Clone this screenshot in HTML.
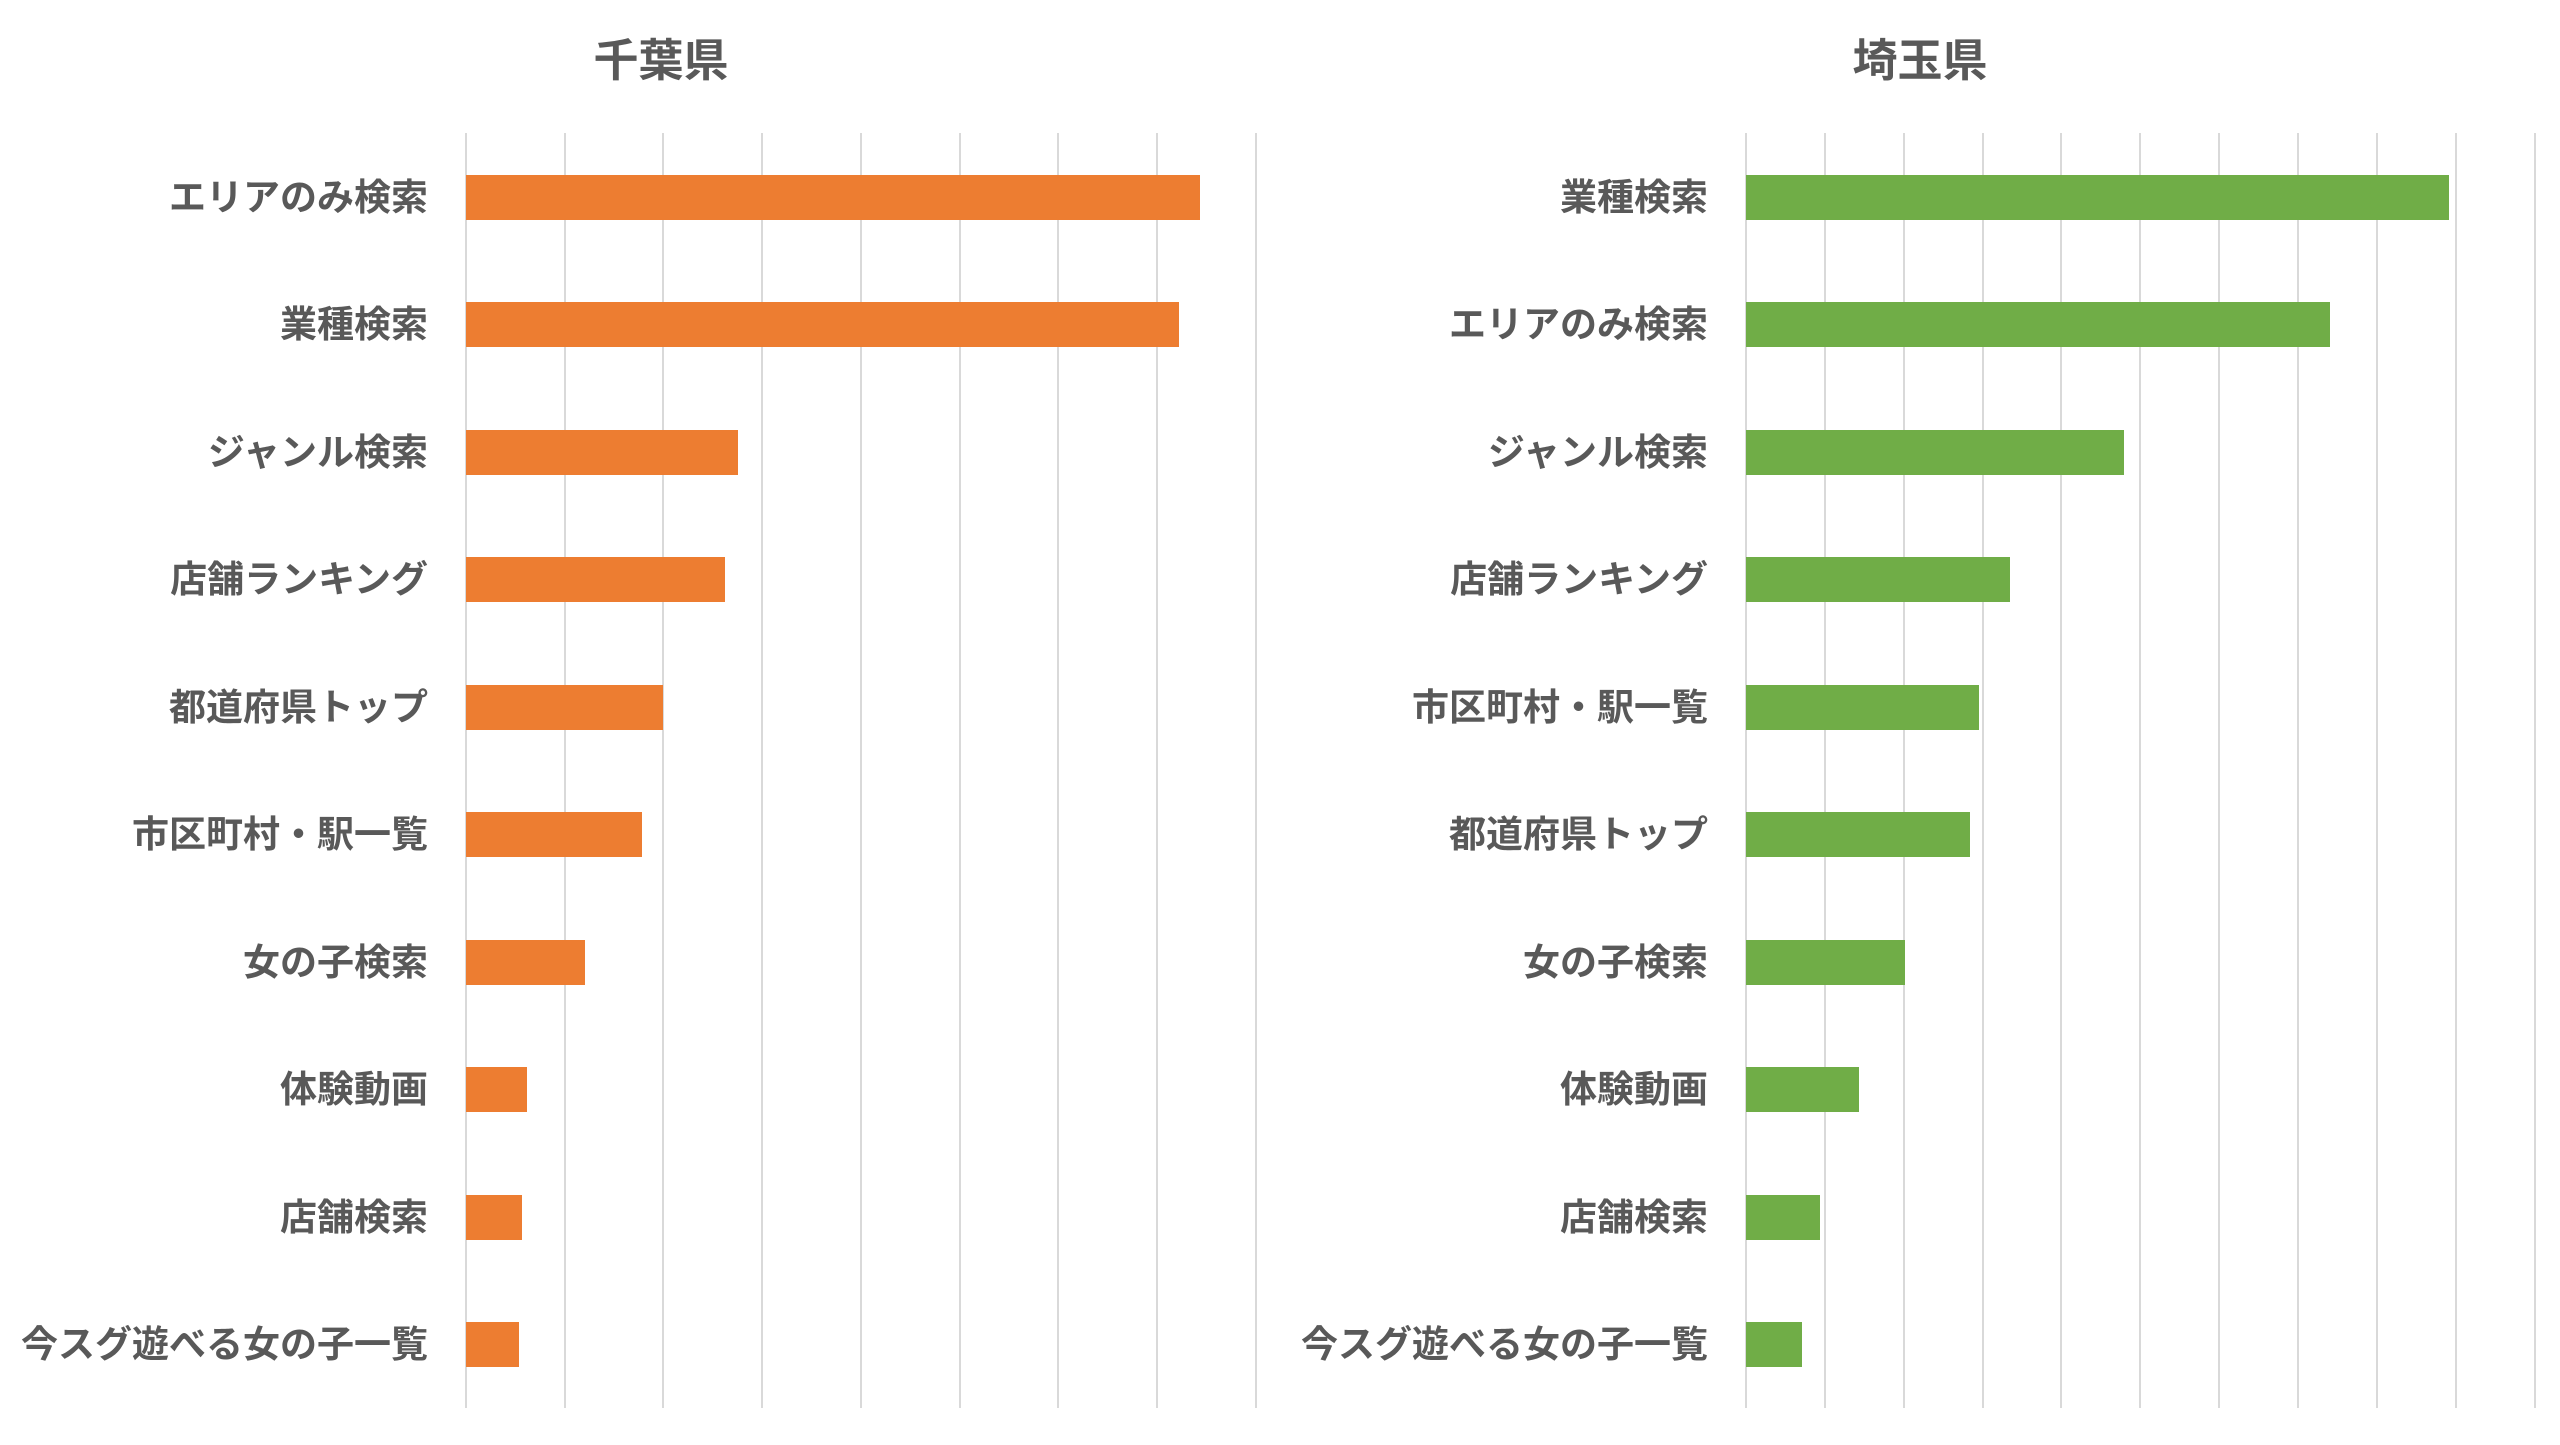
<!DOCTYPE html>
<html><head><meta charset="utf-8"><style>
html,body{margin:0;padding:0;background:#fff;}
svg text{font-family:"Liberation Sans","Noto Sans CJK JP",sans-serif;fill:#595959;font-weight:bold;}
</style></head><body>
<svg width="2560" height="1440" viewBox="0 0 2560 1440" xmlns="http://www.w3.org/2000/svg">
<rect width="2560" height="1440" fill="#fff"/>
<g stroke="#d9d9d9" stroke-width="2">
<line x1="466" y1="133" x2="466" y2="1408"/><line x1="565" y1="133" x2="565" y2="1408"/><line x1="663" y1="133" x2="663" y2="1408"/><line x1="762" y1="133" x2="762" y2="1408"/><line x1="861" y1="133" x2="861" y2="1408"/><line x1="960" y1="133" x2="960" y2="1408"/><line x1="1058" y1="133" x2="1058" y2="1408"/><line x1="1157" y1="133" x2="1157" y2="1408"/><line x1="1256" y1="133" x2="1256" y2="1408"/>
<line x1="1746" y1="133" x2="1746" y2="1408"/><line x1="1825" y1="133" x2="1825" y2="1408"/><line x1="1904" y1="133" x2="1904" y2="1408"/><line x1="1983" y1="133" x2="1983" y2="1408"/><line x1="2061" y1="133" x2="2061" y2="1408"/><line x1="2140" y1="133" x2="2140" y2="1408"/><line x1="2219" y1="133" x2="2219" y2="1408"/><line x1="2298" y1="133" x2="2298" y2="1408"/><line x1="2377" y1="133" x2="2377" y2="1408"/><line x1="2456" y1="133" x2="2456" y2="1408"/><line x1="2535" y1="133" x2="2535" y2="1408"/>
</g>
<text x="661" y="76" font-size="45" text-anchor="middle">千葉県</text>
<text x="1920" y="76" font-size="45" text-anchor="middle">埼玉県</text>
<g fill="#ed7d31">
<rect x="466" y="175" width="734" height="45"/>
<rect x="466" y="302" width="713" height="45"/>
<rect x="466" y="430" width="272" height="45"/>
<rect x="466" y="557" width="259" height="45"/>
<rect x="466" y="685" width="197" height="45"/>
<rect x="466" y="812" width="176" height="45"/>
<rect x="466" y="940" width="119" height="45"/>
<rect x="466" y="1067" width="61" height="45"/>
<rect x="466" y="1195" width="56" height="45"/>
<rect x="466" y="1322" width="53" height="45"/>
</g>
<g fill="#70ad47">
<rect x="1746" y="175" width="703" height="45"/>
<rect x="1746" y="302" width="584" height="45"/>
<rect x="1746" y="430" width="378" height="45"/>
<rect x="1746" y="557" width="264" height="45"/>
<rect x="1746" y="685" width="233" height="45"/>
<rect x="1746" y="812" width="224" height="45"/>
<rect x="1746" y="940" width="159" height="45"/>
<rect x="1746" y="1067" width="113" height="45"/>
<rect x="1746" y="1195" width="74" height="45"/>
<rect x="1746" y="1322" width="56" height="45"/>
</g>
<g font-size="37" text-anchor="end">
<text x="428" y="210">エリアのみ検索</text>
<text x="428" y="337">業種検索</text>
<text x="428" y="465">ジャンル検索</text>
<text x="428" y="592">店舗ランキング</text>
<text x="428" y="720">都道府県トップ</text>
<text x="428" y="847">市区町村・駅一覧</text>
<text x="428" y="975">女の子検索</text>
<text x="428" y="1102">体験動画</text>
<text x="428" y="1230">店舗検索</text>
<text x="428" y="1357">今スグ遊べる女の子一覧</text>
<text x="1708" y="210">業種検索</text>
<text x="1708" y="337">エリアのみ検索</text>
<text x="1708" y="465">ジャンル検索</text>
<text x="1708" y="592">店舗ランキング</text>
<text x="1708" y="720">市区町村・駅一覧</text>
<text x="1708" y="847">都道府県トップ</text>
<text x="1708" y="975">女の子検索</text>
<text x="1708" y="1102">体験動画</text>
<text x="1708" y="1230">店舗検索</text>
<text x="1708" y="1357">今スグ遊べる女の子一覧</text>
</g>
</svg>
</body></html>
